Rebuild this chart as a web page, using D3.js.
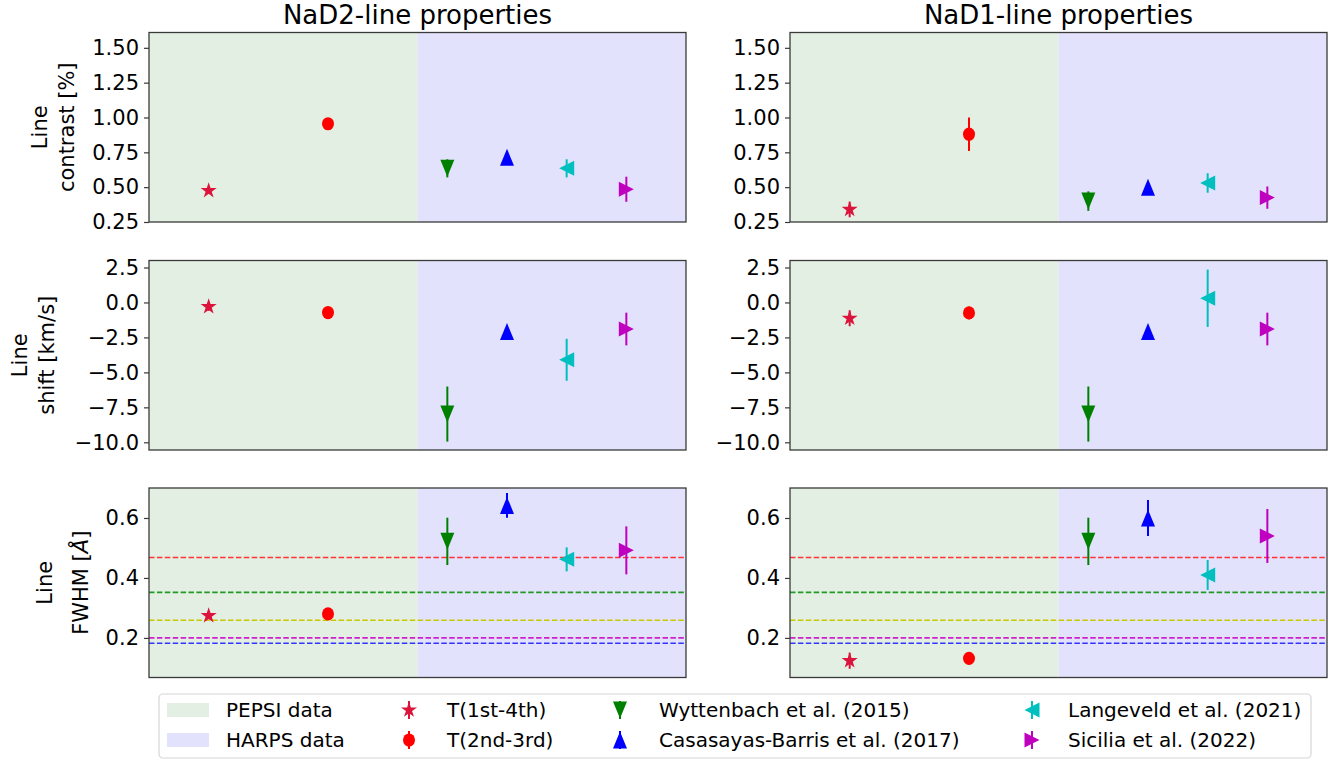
<!DOCTYPE html>
<html>
<head>
<meta charset="utf-8">
<script src="https://cdn.jsdelivr.net/npm/d3@7"></script>
<style>
  body { margin: 0; background: #fff; }
  text { font-family: 'DejaVu Sans', sans-serif; fill: #000; }
</style>
</head>
<body>
<svg id="chart" width="1338" height="760"></svg>
<script>
// sources (legend order) and their x slots
var sources = ['T(1st-4th)', 'T(2nd-3rd)', 'Wyttenbach et al. (2015)',
  'Casasayas-Barris et al. (2017)', 'Langeveld et al. (2021)', 'Sicilia et al. (2022)']
var xSlots = [0, 2, 4, 5, 6, 7]
var colors = ['#dc143c', '#ff0000', '#008000', '#0000ff', '#00bfbf', '#bf00bf']
var shapes = ['star', 'circle', 'down', 'up', 'left', 'right']

// NaD2
var d2Contrast = [0.475, 0.955, 0.635, 0.715, 0.635, 0.485]
var d2ContrastErr = [0.02, 0.04, 0.065, 0.02, 0.065, 0.09]
var d2Shift = [-0.3, -0.72, -7.98, -2.08, -4.1, -1.9]
var d2ShiftErr = [0.3, 0.3, 1.97, 0.3, 1.5, 1.17]
var d2Fwhm = [0.274, 0.28, 0.522, 0.642, 0.462, 0.492]
var d2FwhmErr = [0.01, 0.01, 0.079, 0.041, 0.04, 0.08]

// NaD1
var d1Contrast = [0.34, 0.88, 0.40, 0.50, 0.53, 0.425]
var d1ContrastErr = [0.056, 0.12, 0.07, 0.02, 0.07, 0.08]
var d1Shift = [-1.13, -0.75, -7.98, -2.08, 0.3, -1.9]
var d1ShiftErr = [0.57, 0.45, 1.97, 0.3, 2.05, 1.17]
var d1Fwhm = [0.124, 0.132, 0.522, 0.60, 0.41, 0.54]
var d1FwhmErr = [0.027, 0.02, 0.079, 0.06, 0.05, 0.09]

// dashed reference lines in the FWHM panels
var refFwhm = [0.468, 0.352, 0.259, 0.200, 0.182]
var refColors = ['#ff3333', '#229922', '#c8c800', '#cc22cc', '#3333ff']

var contrastTicks = [0.25, 0.5, 0.75, 1.0, 1.25, 1.5]
var shiftTicks = [-10, -7.5, -5, -2.5, 0, 2.5]
var fwhmTicks = [0.2, 0.4, 0.6]

var titles = ['NaD2-line properties', 'NaD1-line properties']
var legendPatches = ['PEPSI data', 'HARPS data']

var svg = d3.select('#chart')

// layout
var colLeft = [149, 790]
var panelW = 537
var rowTop = [32.5, 260.5, 488]
var panelH = 189.5
var xDomain = [-1, 8]
var splitX = 3.5
var green = '#e3efe3'
var blue = '#e2e2fc'

function trianglePath(dir, w, h) {
  var a = w / 2, b = h / 2
  if (dir === 'up') return `M0,${-b}L${a},${b}L${-a},${b}Z`
  if (dir === 'down') return `M0,${b}L${a},${-b}L${-a},${-b}Z`
  if (dir === 'left') return `M${-b},0L${b},${-a}L${b},${a}Z`
  return `M${b},0L${-b},${-a}L${-b},${a}Z`
}

function drawMarker(g, shape, color) {
  if (shape === 'star') {
    g.append('path').attr('d', d3.symbol(d3.symbolStar, 80)()).attr('fill', color)
  } else if (shape === 'circle') {
    g.append('ellipse').attr('rx', 6).attr('ry', 6.6).attr('fill', color)
  } else {
    var w = (shape === 'up' || shape === 'down') ? 14 : 15
    var h = (shape === 'up' || shape === 'down') ? 17 : 15
    g.append('path').attr('d', trianglePath(shape, w, h)).attr('fill', color)
  }
}

var rows = [
  { label: ['Line', 'contrast [%]'], lx: [40, 67], ticks: contrastTicks, fmt: d3.format('.2f'),
    domain: [0.25, 1.61], vals: [d2Contrast, d1Contrast], errs: [d2ContrastErr, d1ContrastErr] },
  { label: ['Line', 'shift [km/s]'], lx: [20, 47], ticks: shiftTicks, fmt: d3.format('.1f'),
    domain: [-10.55, 3.0], vals: [d2Shift, d1Shift], errs: [d2ShiftErr, d1ShiftErr] },
  { label: ['Line', 'FWHM [Å]'], lx: [45, 81], ticks: fwhmTicks, fmt: d3.format('.1f'),
    domain: [0.068, 0.70], vals: [d2Fwhm, d1Fwhm], errs: [d2FwhmErr, d1FwhmErr], ref: true }
]

rows.forEach(function(row, ri) {
  [0, 1].forEach(function(ci) {
    var xScale = d3.scaleLinear().domain(xDomain).range([0, panelW])
    var yScale = d3.scaleLinear().domain(row.domain).range([panelH, 0])
    var g = svg.append('g')
      .attr('transform', `translate(${colLeft[ci]},${rowTop[ri]})`)

    // shaded data regions
    g.append('rect')
      .attr('x', 0).attr('y', 0)
      .attr('width', xScale(splitX)).attr('height', panelH)
      .attr('fill', green)
    g.append('rect')
      .attr('x', xScale(splitX)).attr('y', 0)
      .attr('width', panelW - xScale(splitX)).attr('height', panelH)
      .attr('fill', blue)

    if (row.ref) {
      g.selectAll('.ref')
        .data(refFwhm)
        .enter()
        .append('line')
        .attr('x1', 0).attr('x2', panelW)
        .attr('y1', d => yScale(d)).attr('y2', d => yScale(d))
        .attr('stroke', (d, i) => refColors[i])
        .attr('stroke-width', 1.6)
        .attr('stroke-dasharray', '5.5,2.4')
    }

    var vals = row.vals[ci]
    var errs = row.errs[ci]
    vals.forEach(function(v, i) {
      var cx = xScale(xSlots[i])
      g.append('line')
        .attr('x1', cx).attr('x2', cx)
        .attr('y1', yScale(v - errs[i])).attr('y2', yScale(v + errs[i]))
        .attr('stroke', colors[i])
        .attr('stroke-width', 2)
      var m = g.append('g').attr('transform', `translate(${cx},${yScale(v)})`)
      drawMarker(m, shapes[i], colors[i])
    })

    // frame
    g.append('rect')
      .attr('width', panelW).attr('height', panelH)
      .attr('fill', 'none')
      .attr('stroke', '#3a3a3a')
      .attr('stroke-width', 1.3)

    var yAxis = d3.axisLeft(yScale)
      .tickValues(row.ticks)
      .tickFormat(d => row.fmt(d).replace('-', '\u2212'))
      .tickSize(5)
      .tickPadding(5)
    var ax = g.append('g').call(yAxis)
    ax.select('.domain').remove()
    ax.selectAll('.tick line').attr('stroke', '#3a3a3a').attr('stroke-width', 1.2)
    ax.selectAll('.tick text').style('font-size', '21px').attr('fill', '#000')
      .style('font-family', 'DejaVu Sans')

    if (ci === 0) {
      row.label.forEach(function(t, li) {
        var txt = svg.append('text')
          .attr('transform', `translate(${row.lx[li]},${rowTop[ri] + panelH / 2}) rotate(-90)`)
          .attr('text-anchor', 'middle')
          .attr('dominant-baseline', 'central')
          .style('font-size', '21px')
        if (t.indexOf('Å') >= 0) {
          txt.append('tspan').text('FWHM [')
          txt.append('tspan').style('font-style', 'italic').text('Å')
          txt.append('tspan').text(']')
        } else {
          txt.text(t)
        }
      })
    }

    if (ri === 0) {
      svg.append('text')
        .attr('x', colLeft[ci] + panelW / 2)
        .attr('y', 24)
        .attr('text-anchor', 'middle')
        .style('font-size', '26px')
        .text(titles[ci])
    }
  })
})

// legend
var legend = svg.append('g')
legend.append('rect')
  .attr('x', 159).attr('y', 694)
  .attr('width', 1152).attr('height', 64)
  .attr('rx', 4)
  .attr('fill', '#fff')
  .attr('stroke', '#d6d6d6')
  .attr('stroke-width', 1.2)

var rowY = [710, 740]
legendPatches.forEach(function(t, i) {
  legend.append('rect')
    .attr('x', 167).attr('y', rowY[i] - 7)
    .attr('width', 42).attr('height', 14)
    .attr('fill', i === 0 ? green : blue)
  legend.append('text')
    .attr('x', 226).attr('y', rowY[i])
    .attr('dominant-baseline', 'central')
    .style('font-size', '20px')
    .text(t)
})

var legMarkX = [409, 409, 620, 620, 1032, 1032]
var legTextX = [447, 447, 659, 659, 1068, 1068]
sources.forEach(function(s, i) {
  var y = rowY[i % 2]
  legend.append('line')
    .attr('x1', legMarkX[i]).attr('x2', legMarkX[i])
    .attr('y1', y - 9).attr('y2', y + 9)
    .attr('stroke', colors[i]).attr('stroke-width', 2)
  var m = legend.append('g').attr('transform', `translate(${legMarkX[i]},${y})`)
  drawMarker(m, shapes[i], colors[i])
  legend.append('text')
    .attr('x', legTextX[i]).attr('y', y)
    .attr('dominant-baseline', 'central')
    .style('font-size', '20px')
    .text(s)
})
</script>
</body>
</html>
